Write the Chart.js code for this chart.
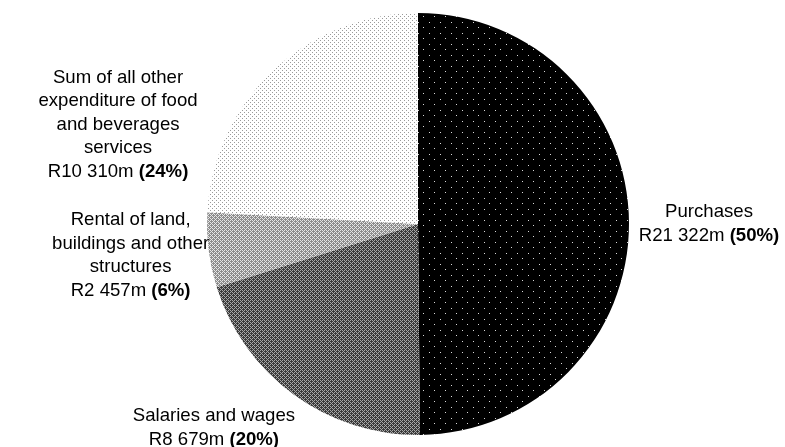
<!DOCTYPE html>
<html>
<head>
<meta charset="utf-8">
<script src="https://cdn.jsdelivr.net/npm/chart.js@4/dist/chart.umd.min.js"></script>
<style>
  html, body { margin: 0; padding: 0; background: #fff; }
  #wrap { width: 785px; height: 447px; }
</style>
</head>
<body>
<div id="wrap"><canvas id="pie"></canvas></div>
<script>
// data
const categories = [
  ["Purchases"],
  ["Salaries and wages"],
  ["Rental of land,", "buildings and other", "structures"],
  ["Sum of all other", "expenditure of food", "and beverages", "services"],
];
const amounts = [21322, 8679, 2457, 10310];
const amountLabels = ["R21 322m", "R8 679m", "R2 457m", "R10 310m"];
const percentLabels = ["(50%)", "(20%)", "(6%)", "(24%)"];

// label block offsets from the slice's outer mid point
const labelOffsets = [[80, 1], [-80, 33], [-78, 5], [-155, 54]];

// little fill patterns like the original print-style chart
function makePattern(size, bg, fg, dots) {
  const c = document.createElement("canvas");
  c.width = size;
  c.height = size;
  const x = c.getContext("2d");
  x.fillStyle = bg;
  x.fillRect(0, 0, size, size);
  x.fillStyle = fg;
  dots.forEach(([dx, dy]) => x.fillRect(dx, dy, 1, 1));
  return x.createPattern(c, "repeat");
}

const fills = [
  makePattern(11, "#000000", "#d8d8d8", [[0, 0], [5, 5]]),
  makePattern(4, "#3a3a3a", "#a8a8a8", [[0, 0], [2, 0], [1, 1], [0, 2], [2, 2], [3, 3]]),
  makePattern(4, "#8c8c8c", "#e6e6e6", [[0, 0], [2, 0], [1, 1], [0, 2], [2, 2], [3, 3]]),
  makePattern(4, "#ffffff", "#9a9a9a", [[0, 0], [2, 2]]),
];

const FONT = "Liberation Sans, Arial, sans-serif";
const SIZE = "18.6px ";
const LINE = 23.5;

const outsideLabels = {
  id: "outsideLabels",
  afterDraw(chart) {
    const ctx = chart.ctx;
    const meta = chart.getDatasetMeta(0);
    ctx.save();
    ctx.fillStyle = "#000";
    ctx.textBaseline = "middle";
    meta.data.forEach((arc, i) => {
      const mid = (arc.startAngle + arc.endAngle) / 2;
      const ax = arc.x + arc.outerRadius * Math.cos(mid);
      const ay = arc.y + arc.outerRadius * Math.sin(mid);
      const cx = ax + labelOffsets[i][0];
      const cy = ay + labelOffsets[i][1];
      const lines = categories[i].length + 1;
      let y = cy - ((lines - 1) * LINE) / 2;
      ctx.textAlign = "center";
      ctx.font = SIZE + FONT;
      categories[i].forEach((t) => {
        ctx.fillText(t, cx, y);
        y += LINE;
      });
      // last line: amount normal + percent bold
      const a = amountLabels[i] + " ";
      ctx.font = SIZE + FONT;
      const wa = ctx.measureText(a).width;
      ctx.font = "bold " + SIZE + FONT;
      const wp = ctx.measureText(percentLabels[i]).width;
      const x0 = cx - (wa + wp) / 2;
      ctx.textAlign = "left";
      ctx.font = SIZE + FONT;
      ctx.fillText(a, x0, y);
      ctx.font = "bold " + SIZE + FONT;
      ctx.fillText(percentLabels[i], x0 + wa, y);
    });
    ctx.restore();
  },
};

new Chart(document.getElementById("pie"), {
  type: "pie",
  data: {
    labels: categories.map((c) => c.join(" ")),
    datasets: [
      {
        data: amounts,
        backgroundColor: fills,
        borderWidth: 0,
      },
    ],
  },
  options: {
    responsive: true,
    maintainAspectRatio: false,
    animation: false,
    layout: { padding: { top: 13, bottom: 12, left: 200, right: 149 } },
    plugins: {
      legend: { display: false },
      tooltip: { enabled: false },
    },
  },
  plugins: [outsideLabels],
});
</script>
</body>
</html>
